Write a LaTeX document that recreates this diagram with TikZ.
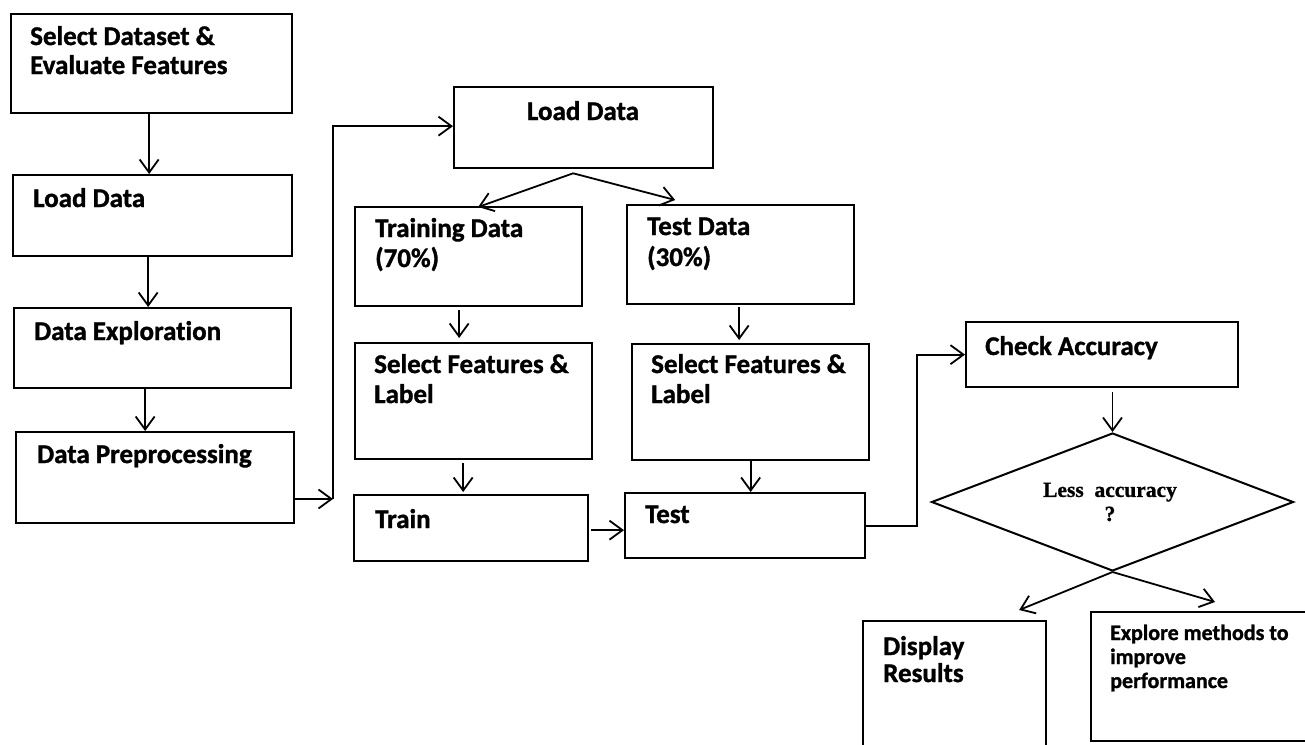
\documentclass[tikz,border=0pt]{standalone}
\usepackage{fontspec}
\setmainfont{Carlito}[Ligatures=NoCommon, BoldFeatures={FakeBold=1.2}]
\newfontfamily\qfont{Liberation Serif}[BoldFeatures={FakeBold=1}]
\usetikzlibrary{arrows.meta,shapes.geometric,calc}

\tikzset{
  box/.style={draw, line width=2.3pt, rectangle, inner sep=0pt, anchor=north west},
  boxtext/.style={anchor=base west, inner sep=0pt, align=left,
    font=\bfseries\fontsize{27}{31}\selectfont},
  smalltext/.style={anchor=base west, inner sep=0pt, align=left,
    font=\bfseries\fontsize{22}{24}\selectfont},
  conn/.style={line width=1.8pt, -{Straight Barb[length=13pt,width=19pt,line width=1.8pt]}},
}

\begin{document}
\begin{tikzpicture}[x=1pt,y=-1pt]
\clip (0,0) rectangle (1305,744);
\fill[white] (0,0) rectangle (1305,744);

% left column
\node[box, minimum width=281pt, minimum height=99pt] (b1) at (10,13) {};
\node[boxtext] (b1t) at (30,45) {Select Dataset \&};
\node[boxtext] (b1u) at (30,74) {Evaluate Features};

\node[box, minimum width=279pt, minimum height=81pt] (b2) at (12,174) {};
\node[boxtext] (b2t) at (33,207) {Load Data};

\node[box, minimum width=277pt, minimum height=80pt] (b3) at (13,307) {};
\node[boxtext] (b3t) at (34,340) {Data Exploration};

\node[box, minimum width=278pt, minimum height=91pt] (b4) at (15,431) {};
\node[boxtext] (b4t) at (37,463) {Data Preprocessing};

% split stage
\node[box, minimum width=259pt, minimum height=81pt] (ld) at (453,86) {};
\node[boxtext, anchor=base] (ldt) at (583,120) {Load Data};

\node[box, minimum width=227pt, minimum height=99pt] (tr) at (354,206) {};
\node[boxtext] (trt) at (375,237) {Training Data};
\node[boxtext] (tru) at (375,267) {(70\%)};

\node[box, minimum width=227pt, minimum height=99pt] (te) at (626,204) {};
\node[boxtext] (tet) at (647,235) {Test Data};
\node[boxtext] (teu) at (647,266) {(30\%)};

\node[box, minimum width=237pt, minimum height=116pt] (s1) at (354,342) {};
\node[boxtext] (s1t) at (374,373) {Select Features \&};
\node[boxtext] (s1u) at (374,403) {Label};

\node[box, minimum width=237pt, minimum height=116pt] (s2) at (631,343) {};
\node[boxtext] (s2t) at (651,373) {Select Features \&};
\node[boxtext] (s2u) at (651,403) {Label};

\node[box, minimum width=234pt, minimum height=66pt] (tn) at (353,494) {};
\node[boxtext] (tnt) at (375,528) {Train};

\node[box, minimum width=240pt, minimum height=65pt] (ts) at (624,492) {};
\node[boxtext] (tst) at (645,523) {Test};

% evaluation
\node[box, minimum width=272pt, minimum height=65pt] (ca) at (965,321) {};
\node[boxtext] (cat) at (985,355) {Check Accuracy};

\node[draw, diamond, line width=2pt, inner sep=0pt, minimum width=362pt,
      minimum height=138pt] (dm) at (1112.5,502) {};
\node[inner sep=0pt, align=center, font=\qfont\bfseries\fontsize{21.5}{24}\selectfont]
      (dmt) at (1110,502) {Less~~accuracy\\?};

\node[box, minimum width=183pt, minimum height=160pt] (dr) at (862,620) {};
\node[boxtext] (drt) at (883,655) {Display};
\node[boxtext] (dru) at (883,682) {Results};

\node[box, minimum width=240pt, minimum height=129pt] (ex) at (1090,611) {};
\node[smalltext] (ext) at (1110,640) {Explore methods to};
\node[smalltext] (exu) at (1110,664) {improve};
\node[smalltext] (exv) at (1110,688) {performance};

% connectors, left column
\draw[conn] ([xshift=-2.5pt]b1.south) -- ([xshift=-2.5pt]b1.south |- b2.north);
\draw[conn] ([xshift=-4.5pt]b2.south) -- ([xshift=-4.5pt]b2.south |- b3.north);
\draw[conn] ([xshift=-7.5pt]b3.south) -- ([xshift=-7.5pt]b3.south |- b4.north);

\coordinate (c1) at (333,499);
\draw[conn] (b4.east |- c1) -- (c1);
\draw[conn] (c1) |- ([yshift=1.5pt]ld.west);

% connectors, split stage
\draw[conn] ([xshift=-10.5pt,yshift=-4pt]ld.south) -- ([xshift=9.5pt,yshift=-1pt]tr.north);
\draw[conn] ([xshift=-10.5pt,yshift=-4pt]ld.south) -- ([xshift=-65.5pt,yshift=4pt]te.north);
\draw[conn] ([xshift=-9.5pt,yshift=-3pt]tr.south) -- ([xshift=-9.5pt,yshift=4pt]tr.south |- s1.north);
\draw[conn] ([xshift=-1.5pt,yshift=-2pt]te.south) -- ([xshift=-1.5pt,yshift=3pt]te.south |- s2.north);
\draw[conn] ([xshift=-10.5pt,yshift=-3pt]s1.south) -- ([xshift=-10.5pt,yshift=2pt]s1.south |- tn.north);
\draw[conn] (s2.south) -- (s2.south |- ts.north);
\draw[conn] ([xshift=2pt,yshift=-2pt]tn.east) -- ([yshift=-2pt]tn.east -| ts.west);

% connectors, evaluation
\draw[conn] (ts.east) -- ++(51,0) |- (ca.west);
\draw[conn] ([yshift=-4pt]dm.north |- ca.south) -- (dm.north);
\draw[conn] (dm.south) -- ([xshift=64.5pt,yshift=10pt]dr.north);
\draw[conn] (dm.south) -- ([xshift=125pt,yshift=9pt]ex.north west);
\end{tikzpicture}
\end{document}
